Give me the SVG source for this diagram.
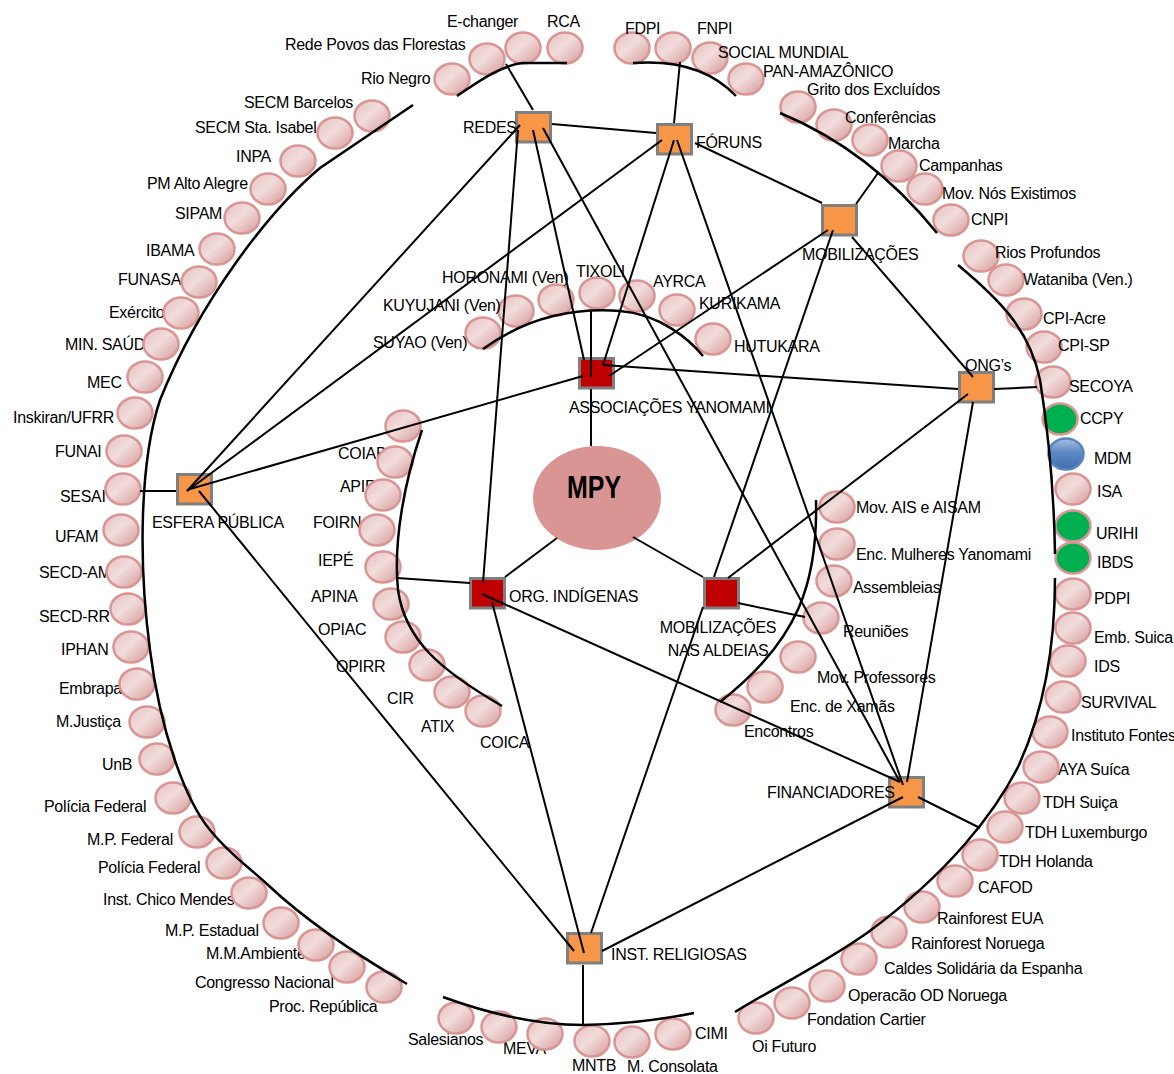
<svg xmlns="http://www.w3.org/2000/svg" width="1174" height="1074" viewBox="0 0 1174 1074">
<defs>
<linearGradient id="pk" x1="0" y1="0" x2="1" y2="1">
<stop offset="0" stop-color="#e6bebd"/><stop offset="0.45" stop-color="#f1dddc"/><stop offset="1" stop-color="#d69a99"/>
</linearGradient>
<linearGradient id="bl" x1="0" y1="0" x2="0" y2="1">
<stop offset="0" stop-color="#a9c1e2"/><stop offset="0.45" stop-color="#5c88c3"/><stop offset="1" stop-color="#3f6fae"/>
</linearGradient>
<style>
.t{font-family:"Liberation Sans",Arial,sans-serif;font-size:16px;letter-spacing:-0.3px;fill:#000}
.b ellipse{fill:url(#pk);stroke:#d99594;stroke-width:2.5}
.b ellipse.g{fill:#00b050}
.b ellipse.u{fill:url(#bl);stroke:#5a86c0}
.sq{fill:#f79646;stroke:#7f7f7f;stroke-width:3}
.rd{fill:#c00000;stroke:#7f7f7f;stroke-width:3}
.c{stroke:#000;stroke-width:2;fill:none}
.a{stroke:#000;stroke-width:2.5;fill:none}
</style>
</defs>
<rect width="1174" height="1074" fill="#fff"/>

<!-- REDES group -->
<g id="b-rio-negro" class="b"><ellipse cx="452" cy="79" rx="17.5" ry="15.5"/><text class="t" x="361" y="84">Rio Negro</text></g>
<g id="b-rede-povos" class="b"><ellipse cx="487" cy="59" rx="17.5" ry="15.5"/><text class="t" x="285" y="50">Rede Povos das Florestas</text></g>
<g id="b-echanger" class="b"><ellipse cx="523" cy="48" rx="17.5" ry="15.5"/><text class="t" x="447" y="27">E-changer</text></g>
<g id="b-rca" class="b"><ellipse cx="565" cy="48" rx="17.5" ry="15.5"/><text class="t" x="547" y="27">RCA</text></g>

<!-- FÓRUNS group -->
<g id="b-fdpi" class="b"><ellipse cx="632" cy="48" rx="17.5" ry="15.5"/><text class="t" x="625" y="34">FDPI</text></g>
<g id="b-fnpi" class="b"><ellipse cx="673" cy="48" rx="17.5" ry="15.5"/><text class="t" x="697" y="34">FNPI</text></g>
<g id="b-social" class="b"><ellipse cx="710" cy="58" rx="17.5" ry="15.5"/><text class="t" x="718" y="58">SOCIAL MUNDIAL</text></g>
<g id="b-pan" class="b"><ellipse cx="746" cy="79" rx="17.5" ry="15.5"/><text class="t" x="763" y="77">PAN-AMAZÔNICO</text></g>

<!-- MOBILIZAÇÕES group -->
<g id="b-grito" class="b"><ellipse cx="798" cy="107" rx="17.5" ry="15.5"/><text class="t" x="807" y="95">Grito dos Excluídos</text></g>
<g id="b-conf" class="b"><ellipse cx="834" cy="125" rx="17.5" ry="15.5"/><text class="t" x="845" y="123">Conferências</text></g>
<g id="b-marcha" class="b"><ellipse cx="870" cy="140" rx="17.5" ry="15.5"/><text class="t" x="888" y="149">Marcha</text></g>
<g id="b-campanhas" class="b"><ellipse cx="899" cy="166" rx="17.5" ry="15.5"/><text class="t" x="919" y="171">Campanhas</text></g>
<g id="b-nos" class="b"><ellipse cx="925" cy="189" rx="17.5" ry="15.5"/><text class="t" x="942" y="199">Mov. Nós Existimos</text></g>
<g id="b-cnpi" class="b"><ellipse cx="951" cy="220" rx="17.5" ry="15.5"/><text class="t" x="971" y="225">CNPI</text></g>

<!-- ONG group -->
<g id="b-rios" class="b"><ellipse cx="981" cy="256" rx="17.5" ry="15.5"/><text class="t" x="995" y="258">Rios Profundos</text></g>
<g id="b-wataniba" class="b"><ellipse cx="1006" cy="280" rx="17.5" ry="15.5"/><text class="t" x="1023" y="285">Wataniba (Ven.)</text></g>
<g id="b-cpiacre" class="b"><ellipse cx="1024" cy="314" rx="17.5" ry="15.5"/><text class="t" x="1043" y="324">CPI-Acre</text></g>
<g id="b-cpisp" class="b"><ellipse cx="1044" cy="347" rx="17.5" ry="15.5"/><text class="t" x="1058" y="351">CPI-SP</text></g>
<g id="b-secoya" class="b"><ellipse cx="1053" cy="382" rx="17.5" ry="15.5"/><text class="t" x="1069" y="392">SECOYA</text></g>
<g id="b-ccpy" class="b"><ellipse class="g" cx="1060" cy="419" rx="17.5" ry="15.5"/><text class="t" x="1080" y="424">CCPY</text></g>
<g id="b-mdm" class="b"><ellipse class="u" cx="1066" cy="454" rx="17.5" ry="15.5"/><text class="t" x="1094" y="464">MDM</text></g>
<g id="b-isa" class="b"><ellipse cx="1073" cy="489" rx="17.5" ry="15.5"/><text class="t" x="1097" y="497">ISA</text></g>
<g id="b-urihi" class="b"><ellipse class="g" cx="1073" cy="526" rx="17.5" ry="15.5"/><text class="t" x="1096" y="539">URIHI</text></g>
<g id="b-ibds" class="b"><ellipse class="g" cx="1073" cy="558" rx="17.5" ry="15.5"/><text class="t" x="1097" y="568">IBDS</text></g>
<g id="b-pdpi" class="b"><ellipse cx="1073" cy="594" rx="17.5" ry="15.5"/><text class="t" x="1094" y="604">PDPI</text></g>
<g id="b-emb" class="b"><ellipse cx="1073" cy="628" rx="17.5" ry="15.5"/><text class="t" x="1094" y="643">Emb. Suica</text></g>
<g id="b-ids" class="b"><ellipse cx="1068" cy="661" rx="17.5" ry="15.5"/><text class="t" x="1094" y="672">IDS</text></g>
<g id="b-survival" class="b"><ellipse cx="1063" cy="697" rx="17.5" ry="15.5"/><text class="t" x="1081" y="708">SURVIVAL</text></g>
<g id="b-fontes" class="b"><ellipse cx="1050" cy="732" rx="17.5" ry="15.5"/><text class="t" x="1071" y="741">Instituto Fontes</text></g>

<!-- FINANCIADORES group -->
<g id="b-aya" class="b"><ellipse cx="1041" cy="767" rx="17.5" ry="15.5"/><text class="t" x="1058" y="775">AYA Suíca</text></g>
<g id="b-tdhsuica" class="b"><ellipse cx="1022" cy="798" rx="17.5" ry="15.5"/><text class="t" x="1043" y="808">TDH Suiça</text></g>
<g id="b-tdhlux" class="b"><ellipse cx="1005" cy="827" rx="17.5" ry="15.5"/><text class="t" x="1025" y="838">TDH Luxemburgo</text></g>
<g id="b-tdhhol" class="b"><ellipse cx="980" cy="855" rx="17.5" ry="15.5"/><text class="t" x="999" y="867">TDH Holanda</text></g>
<g id="b-cafod" class="b"><ellipse cx="955" cy="881" rx="17.5" ry="15.5"/><text class="t" x="978" y="893">CAFOD</text></g>
<g id="b-rfeua" class="b"><ellipse cx="922" cy="907" rx="17.5" ry="15.5"/><text class="t" x="937" y="924">Rainforest EUA</text></g>
<g id="b-rfnor" class="b"><ellipse cx="889" cy="932" rx="17.5" ry="15.5"/><text class="t" x="911" y="949">Rainforest Noruega</text></g>
<g id="b-caldes" class="b"><ellipse cx="859" cy="959" rx="17.5" ry="15.5"/><text class="t" x="884" y="974">Caldes Solidária da Espanha</text></g>
<g id="b-od" class="b"><ellipse cx="827" cy="986" rx="17.5" ry="15.5"/><text class="t" x="848" y="1001">Operacão OD Noruega</text></g>
<g id="b-cartier" class="b"><ellipse cx="792" cy="1003" rx="17.5" ry="15.5"/><text class="t" x="807" y="1025">Fondation Cartier</text></g>
<g id="b-oi" class="b"><ellipse cx="756" cy="1018" rx="17.5" ry="15.5"/><text class="t" x="752" y="1052">Oi Futuro</text></g>

<!-- INST. RELIGIOSAS group -->
<g id="b-salesianos" class="b"><text class="t" x="408" y="1045">Salesianos</text><ellipse cx="456" cy="1018" rx="17.5" ry="15.5"/></g>
<g id="b-meva" class="b"><text class="t" x="503" y="1054">MEVA</text><ellipse cx="499" cy="1027" rx="17.5" ry="15.5"/></g>
<g id="b-inst3" class="b"><ellipse cx="545" cy="1034" rx="17.5" ry="15.5"/></g>
<g id="b-mntb" class="b"><text class="t" x="572" y="1071">MNTB</text><ellipse cx="592" cy="1041" rx="17.5" ry="15.5"/></g>
<g id="b-consolata" class="b"><text class="t" x="627" y="1072">M. Consolata</text><ellipse cx="632" cy="1042" rx="17.5" ry="15.5"/></g>
<g id="b-cimi" class="b"><ellipse cx="673" cy="1034" rx="17.5" ry="15.5"/><text class="t" x="695" y="1039">CIMI</text></g>

<!-- ESFERA PÚBLICA group -->
<g id="b-secm-barcelos" class="b"><text class="t" x="244" y="108">SECM Barcelos</text><ellipse cx="372" cy="116" rx="17.5" ry="15.5"/></g>
<g id="b-secm-isabel" class="b"><text class="t" x="195" y="133">SECM Sta. Isabel</text><ellipse cx="335" cy="133" rx="17.5" ry="15.5"/></g>
<g id="b-inpa" class="b"><text class="t" x="236" y="162">INPA</text><ellipse cx="298" cy="161" rx="17.5" ry="15.5"/></g>
<g id="b-pm" class="b"><text class="t" x="147" y="189">PM Alto Alegre</text><ellipse cx="268" cy="189" rx="17.5" ry="15.5"/></g>
<g id="b-sipam" class="b"><text class="t" x="175" y="219">SIPAM</text><ellipse cx="242" cy="218" rx="17.5" ry="15.5"/></g>
<g id="b-ibama" class="b"><text class="t" x="146" y="256">IBAMA</text><ellipse cx="217" cy="249" rx="17.5" ry="15.5"/></g>
<g id="b-funasa" class="b"><text class="t" x="118" y="285">FUNASA</text><ellipse cx="199" cy="282" rx="17.5" ry="15.5"/></g>
<g id="b-exercito" class="b"><text class="t" x="109" y="318">Exército</text><ellipse cx="181" cy="313" rx="17.5" ry="15.5"/></g>
<g id="b-minsaude" class="b"><text class="t" x="65" y="350">MIN. SAÚDE</text><ellipse cx="161" cy="344" rx="17.5" ry="15.5"/></g>
<g id="b-mec" class="b"><text class="t" x="87" y="388">MEC</text><ellipse cx="145" cy="377" rx="17.5" ry="15.5"/></g>
<g id="b-inskiran" class="b"><text class="t" x="13" y="423">Inskiran/UFRR</text><ellipse cx="135" cy="413" rx="17.5" ry="15.5"/></g>
<g id="b-funai" class="b"><text class="t" x="55" y="457">FUNAI</text><ellipse cx="124" cy="451" rx="17.5" ry="15.5"/></g>
<g id="b-sesai" class="b"><text class="t" x="60" y="502">SESAI</text><ellipse cx="123" cy="489" rx="17.5" ry="15.5"/></g>
<g id="b-ufam" class="b"><text class="t" x="55" y="542">UFAM</text><ellipse cx="121" cy="530" rx="17.5" ry="15.5"/></g>
<g id="b-secdam" class="b"><text class="t" x="39" y="578">SECD-AM</text><ellipse cx="124" cy="572" rx="17.5" ry="15.5"/></g>
<g id="b-secdrr" class="b"><text class="t" x="39" y="622">SECD-RR</text><ellipse cx="128" cy="609" rx="17.5" ry="15.5"/></g>
<g id="b-iphan" class="b"><text class="t" x="61" y="655">IPHAN</text><ellipse cx="131" cy="647" rx="17.5" ry="15.5"/></g>
<g id="b-embrapa" class="b"><text class="t" x="59" y="694">Embrapa</text><ellipse cx="137" cy="684" rx="17.5" ry="15.5"/></g>
<g id="b-mjustica" class="b"><text class="t" x="56" y="727">M.Justiça</text><ellipse cx="147" cy="722" rx="17.5" ry="15.5"/></g>
<g id="b-unb" class="b"><text class="t" x="102" y="770">UnB</text><ellipse cx="157" cy="759" rx="17.5" ry="15.5"/></g>
<g id="b-pf1" class="b"><text class="t" x="44" y="812">Polícia Federal</text><ellipse cx="173" cy="798" rx="17.5" ry="15.5"/></g>
<g id="b-mpf" class="b"><text class="t" x="87" y="845">M.P. Federal</text><ellipse cx="197" cy="832" rx="17.5" ry="15.5"/></g>
<g id="b-pf2" class="b"><text class="t" x="98" y="873">Polícia Federal</text><ellipse cx="224" cy="863" rx="17.5" ry="15.5"/></g>
<g id="b-chico" class="b"><text class="t" x="103" y="905">Inst. Chico Mendes</text><ellipse cx="249" cy="893" rx="17.5" ry="15.5"/></g>
<g id="b-mpe" class="b"><text class="t" x="165" y="936">M.P. Estadual</text><ellipse cx="281" cy="923" rx="17.5" ry="15.5"/></g>
<g id="b-mma" class="b"><text class="t" x="206" y="959">M.M.Ambiente</text><ellipse cx="316" cy="945" rx="17.5" ry="15.5"/></g>
<g id="b-congresso" class="b"><text class="t" x="195" y="988">Congresso Nacional</text><ellipse cx="347" cy="967" rx="17.5" ry="15.5"/></g>
<g id="b-proc" class="b"><text class="t" x="269" y="1012">Proc. República</text><ellipse cx="384" cy="987" rx="17.5" ry="15.5"/></g>

<!-- ASSOCIAÇÕES group -->
<g id="b-suyao" class="b"><ellipse cx="483" cy="333" rx="17.5" ry="15.5"/><text class="t" x="373" y="348">SUYAO (Ven)</text></g>
<g id="b-kuyujani" class="b"><ellipse cx="516" cy="311" rx="17.5" ry="15.5"/><text class="t" x="383" y="311">KUYUJANI (Ven)</text></g>
<g id="b-horonami" class="b"><ellipse cx="556" cy="300" rx="17.5" ry="15.5"/><text class="t" x="442" y="283">HORONAMI (Ven)</text></g>
<g id="b-tixoli" class="b"><ellipse cx="597" cy="293" rx="17.5" ry="15.5"/><text class="t" x="576" y="277">TIXOLI</text></g>
<g id="b-ayrca" class="b"><ellipse cx="637" cy="296" rx="17.5" ry="15.5"/><text class="t" x="653" y="287">AYRCA</text></g>
<g id="b-kurikama" class="b"><ellipse cx="677" cy="310" rx="17.5" ry="15.5"/><text class="t" x="699" y="309">KURIKAMA</text></g>
<g id="b-hutukara" class="b"><ellipse cx="713" cy="339" rx="17.5" ry="15.5"/><text class="t" x="734" y="352">HUTUKARA</text></g>

<!-- ORG. INDÍGENAS group -->
<g id="b-org1" class="b"><ellipse cx="403" cy="426" rx="17.5" ry="15.5"/></g>
<g id="b-coiab" class="b"><text class="t" x="338" y="459">COIAB</text><ellipse cx="395" cy="462" rx="17.5" ry="15.5"/></g>
<g id="b-apir" class="b"><text class="t" x="340" y="492">APIR</text><ellipse cx="383" cy="495" rx="17.5" ry="15.5"/></g>
<g id="b-foirn" class="b"><text class="t" x="313" y="528">FOIRN</text><ellipse cx="377" cy="530" rx="17.5" ry="15.5"/></g>
<g id="b-iepe" class="b"><text class="t" x="318" y="566">IEPÉ</text><ellipse cx="383" cy="567" rx="17.5" ry="15.5"/></g>
<g id="b-apina" class="b"><text class="t" x="311" y="602">APINA</text><ellipse cx="391" cy="604" rx="17.5" ry="15.5"/></g>
<g id="b-opiac" class="b"><text class="t" x="318" y="635">OPIAC</text><ellipse cx="403" cy="637" rx="17.5" ry="15.5"/></g>
<g id="b-opirr" class="b"><text class="t" x="336" y="672">OPIRR</text><ellipse cx="427" cy="665" rx="17.5" ry="15.5"/></g>
<g id="b-cir" class="b"><text class="t" x="387" y="704">CIR</text><ellipse cx="452" cy="692" rx="17.5" ry="15.5"/></g>
<g id="b-atix" class="b"><text class="t" x="421" y="732">ATIX</text><ellipse cx="483" cy="711" rx="17.5" ry="15.5"/></g>
<g id="b-coica" class="b"><text class="t" x="480" y="748">COICA</text></g>

<!-- MOBILIZAÇÕES NAS ALDEIAS group -->
<g id="b-ais" class="b"><ellipse cx="837" cy="507" rx="17.5" ry="15.5"/><text class="t" x="856" y="513">Mov. AIS e AISAM</text></g>
<g id="b-mulheres" class="b"><ellipse cx="837" cy="544" rx="17.5" ry="15.5"/><text class="t" x="856" y="560">Enc. Mulheres Yanomami</text></g>
<g id="b-assembleias" class="b"><ellipse cx="834" cy="581" rx="17.5" ry="15.5"/><text class="t" x="853" y="593">Assembleias</text></g>
<g id="b-reunioes" class="b"><ellipse cx="821" cy="618" rx="17.5" ry="15.5"/><text class="t" x="843" y="637">Reuniões</text></g>
<g id="b-professores" class="b"><ellipse cx="798" cy="657" rx="17.5" ry="15.5"/><text class="t" x="817" y="683">Mov. Professores</text></g>
<g id="b-xamas" class="b"><ellipse cx="765" cy="687" rx="17.5" ry="15.5"/><text class="t" x="790" y="712">Enc. de Xamãs</text></g>
<g id="b-encontros" class="b"><ellipse cx="733" cy="710" rx="17.5" ry="15.5"/><text class="t" x="744" y="737">Encontros</text></g>

<!-- hub nodes -->
<g id="n-mpy"><ellipse cx="597" cy="498" rx="64" ry="52" fill="#d99594"/><text x="594" y="498" text-anchor="middle" font-family="Liberation Sans, Arial, sans-serif" font-size="32" font-weight="bold" textLength="54" lengthAdjust="spacingAndGlyphs">MPY</text></g>
<g id="n-redes"><rect class="sq" x="516.5" y="112.5" width="34" height="29.5"/><text class="t" x="463" y="133">REDES</text></g>
<g id="n-foruns"><rect class="sq" x="657.5" y="124.5" width="34" height="29.5"/><text class="t" x="696" y="148">FÓRUNS</text></g>
<g id="n-mobilizacoes"><rect class="sq" x="822.5" y="205.5" width="34" height="29.5"/><text class="t" x="802" y="260">MOBILIZAÇÕES</text></g>
<g id="n-ongs"><rect class="sq" x="959.5" y="372.5" width="34" height="29.5"/><text class="t" x="965" y="371">ONG’s</text></g>
<g id="n-esfera"><rect class="sq" x="177.5" y="474.5" width="34" height="29.5"/><text class="t" x="152" y="528">ESFERA PÚBLICA</text></g>
<g id="n-associacoes"><rect class="rd" x="579.5" y="358.5" width="34" height="29.5"/><text class="t" x="569" y="413">ASSOCIAÇÕES YANOMAMI</text></g>
<g id="n-org"><rect class="rd" x="470.5" y="578.5" width="34" height="29.5"/><text class="t" x="509" y="602">ORG. INDÍGENAS</text></g>
<g id="n-aldeias"><rect class="rd" x="704.5" y="578.5" width="34" height="29.5"/><text class="t" x="718" y="633" text-anchor="middle">MOBILIZAÇÕES</text><text class="t" x="718" y="656" text-anchor="middle">NAS ALDEIAS</text></g>
<g id="n-financiadores"><rect class="sq" x="889.5" y="777.5" width="34" height="29.5"/><text class="t" x="767" y="798">FINANCIADORES</text></g>
<g id="n-religiosas"><rect class="sq" x="567.5" y="933.5" width="34" height="29.5"/><text class="t" x="611" y="960">INST. RELIGIOSAS</text></g>

<!-- connectors -->
<g id="connectors">
<path class="a" d="M457,96 C478,82 500,66 522,63 L567,63"/>
<path class="a" d="M633,63 Q700,58 736,96"/>
<path class="a" d="M780,113 Q870,150 937,233"/>
<path class="a" d="M958,265 C1000,300 1030,330 1040,380 C1048,430 1054,490 1055,554"/>
<path class="a" d="M1055,578 C1055,650 1042,715 1018,767 C995,812 950,872 867,933 C820,966 770,990 735,1012"/>
<path class="a" d="M443,997 Q520,1025 583,1025 Q640,1024 694,1013"/>
<path class="a" d="M413,105 L320,168 C270,210 200,300 160,400 C140,460 138,560 150,650 C160,730 185,800 210,830 C230,855 250,868 268,885 C300,915 340,945 407,984"/>
<path class="a" d="M483,349 C530,315 580,308 620,311 C660,314 690,340 703,356"/>
<path class="a" d="M422,430 C405,480 393,540 398,590 C405,640 440,670 502,706"/>
<path class="a" d="M816,500 C818,580 800,640 720,702"/>
<path class="c" d="M552,124 L656,133"/>
<path class="c" d="M533,110 L506,64"/>
<path class="c" d="M520,125 L187,491"/>
<path class="c" d="M518,130 L483,583"/>
<path class="c" d="M533,130 L584,360"/>
<path class="c" d="M543,128 L900,782"/>
<path class="c" d="M674,123 L680,62"/>
<path class="c" d="M662,140 L187,491"/>
<path class="c" d="M674,140 L603,365"/>
<path class="c" d="M695,143 L822,203"/>
<path class="c" d="M677,140 L903,785"/>
<path class="c" d="M856,204 L878,173"/>
<path class="c" d="M828,230 L609,376"/>
<path class="c" d="M852,237 L973,377"/>
<path class="c" d="M833,230 L714,577"/>
<path class="c" d="M703,607 L591,933"/>
<path class="c" d="M591,311 L591,377"/>
<path class="c" d="M591,389 L591,446"/>
<path class="c" d="M603,365 L958,389"/>
<path class="c" d="M583,376 L190,489"/>
<path class="c" d="M994,389 L1037,387"/>
<path class="c" d="M968,394 L728,578"/>
<path class="c" d="M973,402 L907,782"/>
<path class="c" d="M903,797 L602,951"/>
<path class="c" d="M918,797 L980,828"/>
<path class="c" d="M505,577 L557,538"/>
<path class="c" d="M397,578 L470,583"/>
<path class="c" d="M482,594 L900,782"/>
<path class="c" d="M492,602 L584,953"/>
<path class="c" d="M633,537 L703,577"/>
<path class="c" d="M738,603 L805,617"/>
<path class="c" d="M140,491 L176,491"/>
<path class="c" d="M199,491 L574,951"/>
<path class="c" d="M583,965 L583,1025"/>
</g>
</svg>
